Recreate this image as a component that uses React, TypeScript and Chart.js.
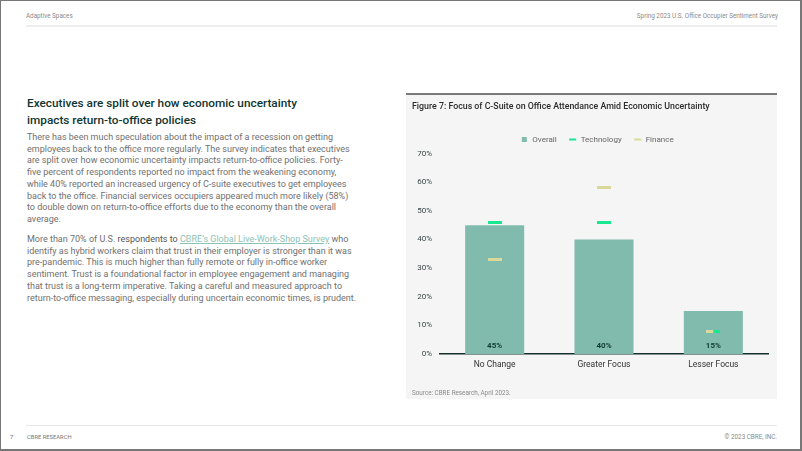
import React, { useEffect, useRef } from "react";
import { Chart, registerables } from "chart.js";

Chart.register(...registerables);

// ---- data ----
const categories = ["No Change", "Greater Focus", "Lesser Focus"];
const overall = [45, 40, 15];
const technology = [46, 46, 8];
const finance = [33, 58, 8];
const yMax = 70;
const yStep = 10;

const COLORS = {
  overall: "#80bbad",
  technology: "#17e88f",
  finance: "#dbd99a",
};

function makeDash(color: string, part: "full" | "left" | "right") {
  const c = document.createElement("canvas");
  c.width = 14;
  c.height = 3;
  const g = c.getContext("2d")!;
  g.fillStyle = color;
  if (part === "full") g.fillRect(0, 0, 14, 3);
  if (part === "left") g.fillRect(0, 0, 7, 3);
  if (part === "right") g.fillRect(7, 0, 7, 3);
  return c;
}

const barLabels = {
  id: "barLabels",
  afterDatasetsDraw(chart: any) {
    const meta = chart.getDatasetMeta(0);
    const ctx = chart.ctx;
    ctx.save();
    ctx.font = "700 8px Roboto";
    ctx.fillStyle = "#103b34";
    ctx.textAlign = "center";
    ctx.textBaseline = "middle";
    meta.data.forEach((el: any, i: number) => {
      ctx.fillText(overall[i] + "%", el.x, el.base - 8);
    });
    ctx.restore();
  },
};

const legendShift = {
  id: "legendShift",
  afterLayout(chart: any) {
    const l = chart.legend;
    if (l) {
      l.left += 7;
      l.right += 7;
    }
  },
};

function ChartPanel() {
  const ref = useRef<HTMLCanvasElement | null>(null);
  useEffect(() => {
    if (!ref.current) return;
    const techStyles = categories.map((_, i) =>
      makeDash(COLORS.technology, technology[i] === finance[i] ? "right" : "full")
    );
    const finStyles = categories.map((_, i) =>
      makeDash(COLORS.finance, technology[i] === finance[i] ? "left" : "full")
    );
    const chart = new Chart(ref.current, {
      type: "bar",
      data: {
        labels: categories,
        datasets: [
          {
            type: "bar",
            label: "Overall",
            data: overall,
            backgroundColor: COLORS.overall,
            borderWidth: 0,
            categoryPercentage: 1,
            barPercentage: 0.54,
            order: 3,
          } as any,
          {
            type: "line",
            label: "Technology",
            data: technology,
            showLine: false,
            pointStyle: techStyles,
            pointRadius: 7,
            borderColor: COLORS.technology,
            backgroundColor: COLORS.technology,
            order: 1,
          } as any,
          {
            type: "line",
            label: "Finance",
            data: finance,
            showLine: false,
            pointStyle: finStyles,
            pointRadius: 7,
            borderColor: COLORS.finance,
            backgroundColor: COLORS.finance,
            order: 2,
          } as any,
        ],
      },
      options: {
        animation: false,
        responsive: false,
        maintainAspectRatio: false,
        layout: { padding: { left: 6, right: 9, top: 0, bottom: 27 } },
        plugins: {
          title: {
            display: true,
            text: "Figure 7: Focus of C-Suite on Office Attendance Amid Economic Uncertainty",
            align: "start",
            color: "#2b2b2b",
            font: { family: "Roboto", size: 8.8, weight: 500 as any },
            padding: { top: 6, bottom: 11 },
          },
          legend: {
            display: true,
            position: "top",
            labels: {
              usePointStyle: true,
              boxHeight: 5,
              padding: 12,
              color: "#666",
              font: { family: "Roboto", size: 8 },
              sort: (a: any, b: any) => a.datasetIndex - b.datasetIndex,
              generateLabels: (chart: any) => {
                const items = (Chart.defaults.plugins.legend.labels as any).generateLabels(chart);
                const cols = [COLORS.overall, COLORS.technology, COLORS.finance];
                items.forEach((it: any) => {
                  const c = cols[it.datasetIndex];
                  it.pointStyle = it.datasetIndex === 0 ? "rect" : "line";
                  it.fillStyle = c;
                  it.strokeStyle = c;
                  it.lineWidth = it.datasetIndex === 0 ? 0 : 2;
                });
                return items;
              },
            },
          },
          tooltip: { enabled: false },
        },
        scales: {
          x: {
            grid: { display: false, drawTicks: false },
            border: { display: true, color: "#15302b", width: 1.5 },
            ticks: { color: "#333", font: { family: "Roboto", size: 8.5 }, padding: 6 },
            afterFit: (s: any) => {
              s.height = 18;
            },
          },
          y: {
            min: 0,
            max: yMax,
            grid: { display: false, drawTicks: false },
            border: { display: false },
            ticks: {
              stepSize: yStep,
              color: "#3a4646",
              font: { family: "Roboto", size: 8 },
              padding: 8,
              callback: (v: any) => v + "%",
            },
            afterFit: (s: any) => {
              s.width = 28;
            },
          },
        },
      },
      plugins: [barLabels, legendShift],
    });
    return () => chart.destroy();
  }, []);
  return (
    <canvas
      ref={ref}
      width={371}
      height={303}
      style={{ position: "absolute", left: 405, top: 95, width: 371, height: 303 }}
    />
  );
}

const bodyStyle: React.CSSProperties = {
  position: "absolute",
  left: 26,
  fontFamily: "Roboto",
  fontSize: 9,
  lineHeight: "11.7px",
  color: "#707070",
  whiteSpace: "nowrap",
};

export default function App() {
  useEffect(() => {
    document.body.style.margin = "0";
  }, []);
  const small: React.CSSProperties = {
    position: "absolute",
    fontFamily: "Roboto",
    fontSize: 6.3,
    color: "#8a8a8a",
    whiteSpace: "nowrap",
    lineHeight: "8px",
  };
  return (
    <div
      style={{
        position: "fixed",
        left: 0,
        top: 0,
        width: 802,
        height: 451,
        boxSizing: "border-box",
        borderStyle: "solid",
        borderColor: "#777",
        borderWidth: "1px 2px 2px 1px",
        background: "#fff",
        overflow: "hidden",
      }}
    >
      <div style={{ position: "absolute", left: 0, top: 0, width: 802, height: 451 }}>
        <div style={{ ...small, left: 25, top: 11 }}>Adaptive Spaces</div>
        <div style={{ ...small, right: 25, top: 11, textAlign: "right" }}>
          Spring 2023 U.S. Office Occupier Sentiment Survey
        </div>
        <div style={{ position: "absolute", left: 25, top: 24, width: 751, height: 2, background: "#eeeeee" }} />

        <div
          style={{
            position: "absolute",
            left: 26,
            top: 94,
            fontFamily: "Roboto",
            fontWeight: 500,
            fontSize: 11.8,
            lineHeight: "17px",
            color: "#0f3531",
            whiteSpace: "nowrap",
          }}
        >
          Executives are split over how economic uncertainty
          <br />
          impacts return-to-office policies
        </div>

        <div style={{ ...bodyStyle, top: 131 }}>
          There has been much speculation about the impact of a recession on getting
          <br />
          employees back to the office more regularly. The survey indicates that executives
          <br />
          are split over how economic uncertainty impacts return-to-office policies. Forty-
          <br />
          five percent of respondents reported no impact from the weakening economy,
          <br />
          while 40% reported an increased urgency of C-suite executives to get employees
          <br />
          back to the office. Financial services occupiers appeared much more likely (58%)
          <br />
          to double down on return-to-office efforts due to the economy than the overall
          <br />
          average.
        </div>
        <div style={{ ...bodyStyle, top: 233 }}>
          More than 70% of U.S. <span style={{ color: "#555" }}>respondents to</span>{" "}
          <span style={{ color: "#8cc2b5", textDecoration: "underline" }}>
            CBRE’s Global Live-Work-Shop Survey
          </span>{" "}
          who
          <br />
          identify as hybrid workers claim that trust in their employer is stronger than it was
          <br />
          pre-pandemic. This is much higher than fully remote or fully in-office worker
          <br />
          sentiment. Trust is a foundational factor in employee engagement and managing
          <br />
          that trust is a long-term imperative. Taking a careful and measured approach to
          <br />
          return-to-office messaging, especially during uncertain economic times, is prudent.
        </div>

        {/* chart panel */}
        <div style={{ position: "absolute", left: 405, top: 92, width: 371, height: 306, background: "#f5f5f5" }} />
        <div style={{ position: "absolute", left: 405, top: 92, width: 371, height: 2, background: "#7a7a7a" }} />
        <ChartPanel />
        <div style={{ ...small, left: 411, top: 388 }}>Source: CBRE Research, April 2023.</div>

        <div style={{ position: "absolute", left: 25, top: 424, width: 751, height: 1, background: "#e8e8e8" }} />
        <div style={{ ...small, left: 9, top: 432, fontSize: 5.8, color: "#666" }}>7</div>
        <div style={{ ...small, left: 26, top: 432, fontSize: 5.8, color: "#777" }}>CBRE RESEARCH</div>
        <div style={{ ...small, right: 26, top: 432, color: "#8a8a8a" }}>© 2023 CBRE, INC.</div>
      </div>
    </div>
  );
}
